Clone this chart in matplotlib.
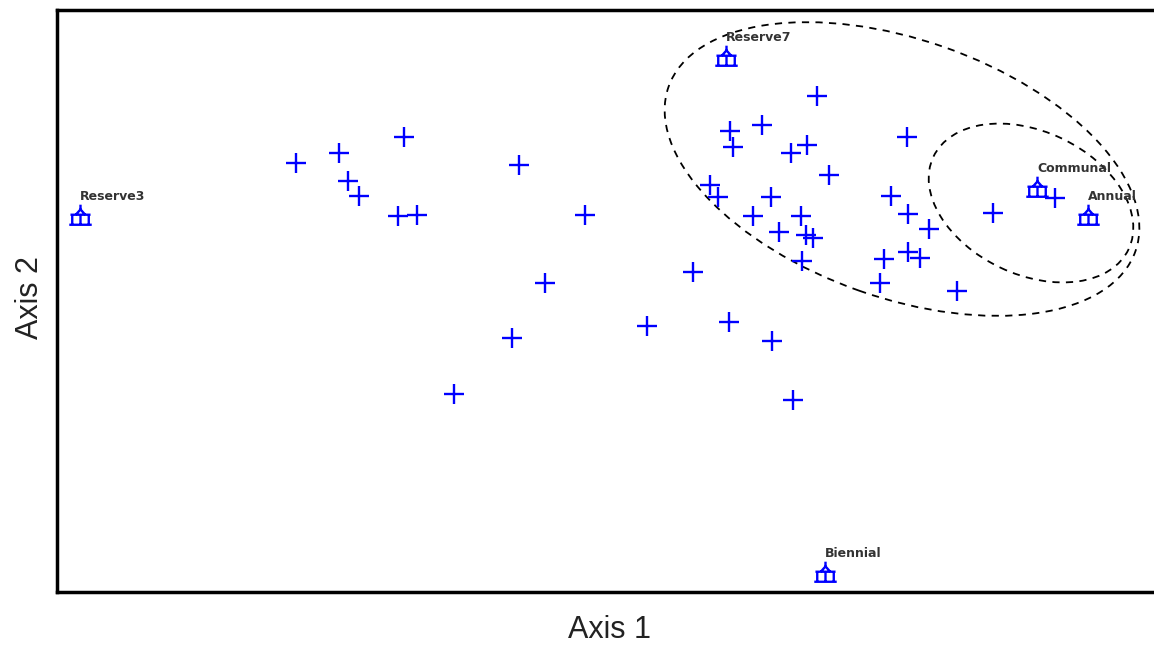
import matplotlib
matplotlib.use("Agg")
import matplotlib.pyplot as plt
from matplotlib.path import Path
from matplotlib.patches import Ellipse

# Site scores (axis units; y increases upward)
site_x = [296, 339, 348, 359, 404, 398, 417, 519, 585, 545, 512, 454, 647, 693, 729, 772, 793,
          817, 762, 730, 733, 807, 791, 829, 710, 718, 771, 753, 801, 779, 806, 813, 802,
          907, 891, 908, 929, 884, 908, 920, 880, 957, 993, 1055]
site_y = [429, 439, 411, 396, 455, 376, 377, 427, 377, 309, 254, 198, 266, 320, 270, 251, 192,
          496, 467, 461, 445, 447, 439, 417, 407, 395, 395, 376, 376, 360, 357, 354, 331,
          455, 396, 378, 363, 333, 340, 334, 309, 301, 379, 394]

# Biplot variables
var_names = ["Reserve3", "Reserve7", "Communal", "Annual", "Biennial"]
var_x = [80, 726, 1037, 1088, 825]
var_y = [376, 535, 404, 376, 19]

# Confidence ellipses: centre x, centre y, width, height, angle
ell_cx = [902, 1031]
ell_cy = [423, 389]
ell_w = [495, 216]
ell_h = [258, 143]
ell_ang = [-19.4, -25.3]

fig = plt.figure(figsize=(11.54, 6.46), dpi=100)
W, H = 1154, 646
ax = fig.add_axes([57 / W, (H - 592) / H, (1165 - 57) / W, 582 / H])
ax.set_xlim(57, 1165)
ax.set_ylim(0, 582)

# custom vector glyph
verts = [(0, 1.0), (0, 0.55),
         (-0.4, 0.15), (0, 0.6), (0.4, 0.15),
         (-0.85, 0.15), (0.85, 0.15),
         (-0.7, 0.15), (-0.7, -0.7),
         (0.7, 0.15), (0.7, -0.7),
         (0, 0.15), (0, -0.7),
         (-0.95, -0.7), (0.95, -0.7)]
codes = [Path.MOVETO, Path.LINETO,
         Path.MOVETO, Path.LINETO, Path.LINETO,
         Path.MOVETO, Path.LINETO,
         Path.MOVETO, Path.LINETO,
         Path.MOVETO, Path.LINETO,
         Path.MOVETO, Path.LINETO,
         Path.MOVETO, Path.LINETO]
glyph = Path(verts, codes)

blue = "#0000ff"
ax.plot(site_x, site_y, linestyle="none", marker="+", markersize=14,
        markeredgewidth=1.7, color=blue)
ax.plot(var_x, var_y, linestyle="none", marker=glyph, markersize=17,
        markeredgewidth=1.7, color=blue, markerfacecolor="none")

for n, x, y in zip(var_names, var_x, var_y):
    ax.text(x, y + 13, n, fontsize=9, fontweight="bold", color="#333333",
            ha="left", va="bottom", family="DejaVu Sans")

for cx, cy, w, h, a in zip(ell_cx, ell_cy, ell_w, ell_h, ell_ang):
    ax.add_patch(Ellipse((cx, cy), w, h, angle=a, fill=False, edgecolor="black",
                         linestyle=(0, (4, 3.5)), linewidth=1.3))

ax.set_xticks([])
ax.set_yticks([])
for s in ["left", "top", "bottom"]:
    ax.spines[s].set_linewidth(2.5)
ax.spines["right"].set_visible(False)

fig.text(610 / W, 1 - 630 / H, "Axis 1", fontsize=22, ha="center", va="center",
         color="#222222", family="Liberation Sans")
fig.text(30 / W, 1 - 298 / H, "Axis 2", fontsize=22, ha="center", va="center",
         rotation=90, color="#222222", family="Liberation Sans")

fig.savefig("out.png", dpi=100)
